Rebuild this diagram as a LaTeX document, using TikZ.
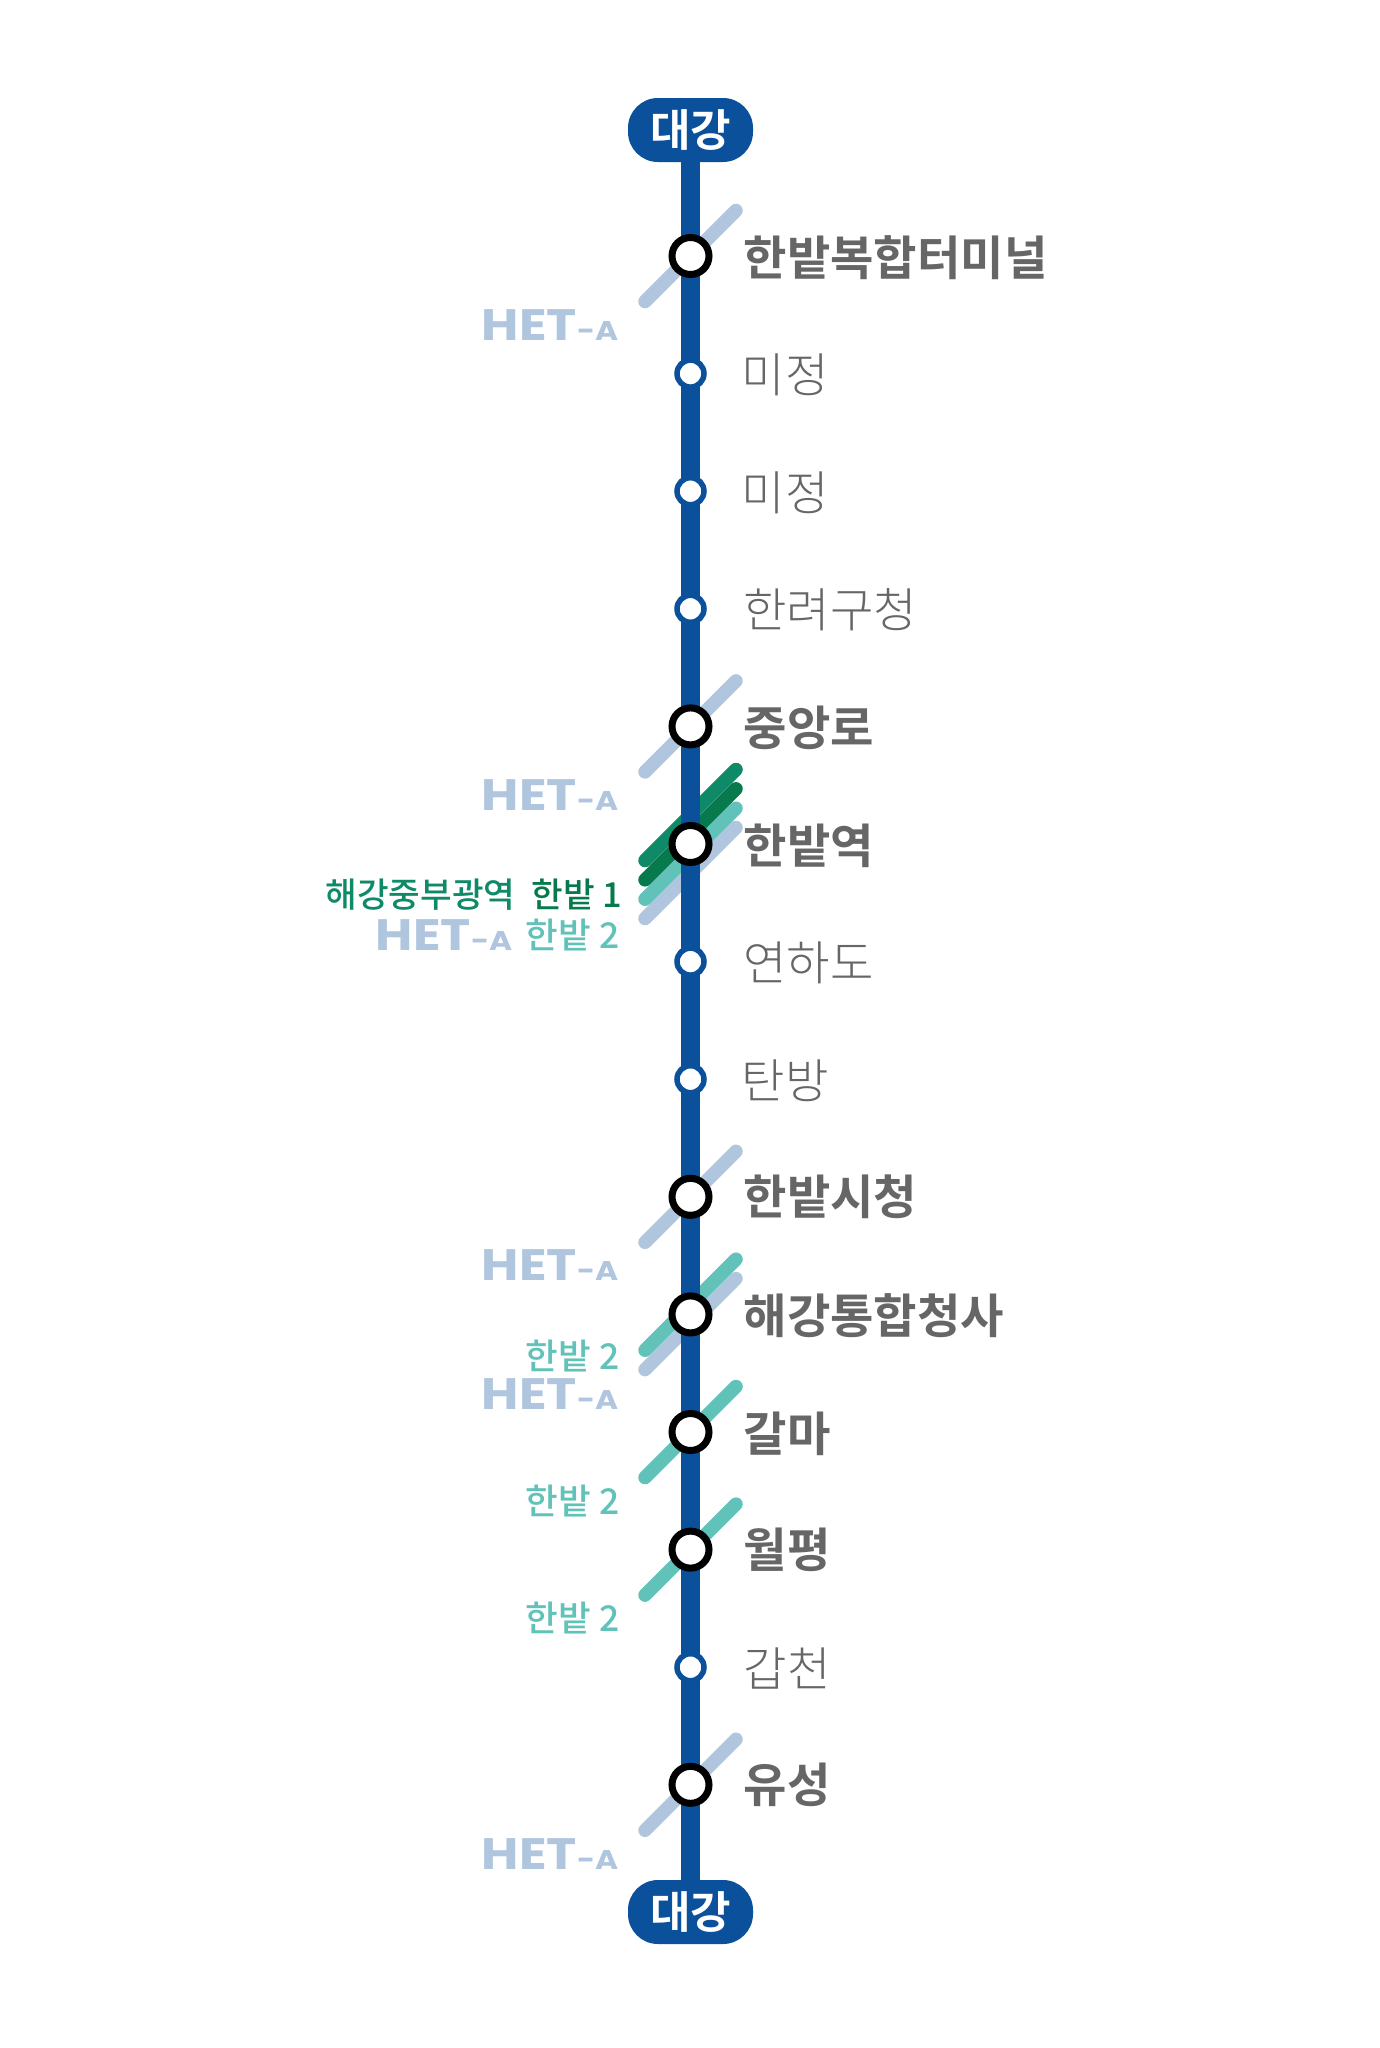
\documentclass[tikz,border=0pt]{standalone}
\usepackage{fontspec}
\usetikzlibrary{calc}
\IfFontExistsTF{Noto Sans CJK KR Medium}{\newfontfamily\krm{Noto Sans CJK KR Medium}}{\newfontfamily\krm[FakeBold=1.6]{Noto Sans CJK KR}}
\newfontfamily\krb{Noto Sans CJK KR Bold}
\IfFontExistsTF{Noto Sans CJK KR Light}{\newfontfamily\krl{Noto Sans CJK KR Light}}{\newfontfamily\krl{Noto Sans CJK KR}}
\newfontfamily\hetf[FakeStretch=1.16]{Poppins}
\definecolor{mainblue}{HTML}{0B509B}
\definecolor{het}{HTML}{B0C5DE}
\definecolor{gone}{HTML}{0F8A68}
\definecolor{gtwo}{HTML}{067A4C}
\definecolor{teal2}{HTML}{60C2B8}
\definecolor{lbl}{HTML}{666666}
\tikzset{
  diagline/.style={line width=13.5pt,line cap=round},
  mainline/.style={line width=19.5pt,mainblue,shorten <=-1pt,shorten >=-1pt},
  major/.style={circle,draw=black,line width=7pt,fill=white,minimum size=37pt,inner sep=0pt},
  minor/.style={circle,draw=mainblue,line width=5.5pt,fill=white,minimum size=27pt,inner sep=0pt},
  terminus/.style={fill=mainblue,rounded corners=30pt,minimum width=125pt,minimum height=64pt,inner sep=0pt,text=white,font=\krb\fontsize{44}{44}\selectfont},
  stn/.style={anchor=base west,inner sep=0pt,text=lbl,font=\krl\fontsize{47.2}{47.2}\selectfont},
  stnb/.style={stn,font=\krb\fontsize{47.2}{47.2}\selectfont},
  hetlabel/.style={anchor=base east,inner sep=0pt,text=het,font=\hetf\bfseries\fontsize{44}{44}\selectfont},
  hanlabel/.style={anchor=base east,inner sep=0pt,text=teal2,font=\krm\fontsize{35.5}{35.5}\selectfont},
  gnlabel/.style={anchor=base east,inner sep=0pt,font=\krm\fontsize{34.4}{34.4}\selectfont},
}
\newcommand{\hetname}{HET\fontsize{27}{27}\selectfont-A}
\newcommand{\diagat}[3]{\draw[diagline,#3] ($(#1)+(-45.5,45.5+#2)$) -- ($(#1)+(45.5,-45.5+#2)$);}
\begin{document}
\begin{tikzpicture}[x=1pt,y=-1pt]
\useasboundingbox (0,0) rectangle (1380,2048);
\fill[white] (0,0) rectangle (1380,2048);
\foreach \i in {0,...,13} {\coordinate (c\i) at (690.5,{256+117.6*\i});}
% crossings
\diagat{c0}{0}{het}
\diagat{c4}{0}{het}
\diagat{c5}{29}{het}
\diagat{c5}{9.7}{teal2}
\diagat{c5}{-9.7}{gtwo}
\diagat{c5}{-29}{gone}
\diagat{c8}{0}{het}
\diagat{c9}{9.7}{het}
\diagat{c9}{-9.7}{teal2}
\diagat{c10}{0}{teal2}
\diagat{c11}{0}{teal2}
\diagat{c13}{0}{het}
% termini and main line
\node[terminus] (top) at (690.5,130) {대강};
\node[terminus] (bot) at (690.5,1912) {대강};
\draw[mainline] (top.south) -- (bot.north);
% stations
\foreach \i in {0,4,5,8,9,10,11,13} {\node[major] (s\i) at (c\i) {};}
\foreach \i in {1,2,3,6,7,12} {\node[minor] (s\i) at (c\i) {};}
% names
\node[stnb] (n0) at ($(c0)+(53,19)$) {한밭복합터미널};
\node[stn] (n1) at ($(c1)+(51,19)$) {미정};
\node[stn] (n2) at ($(c2)+(51,19)$) {미정};
\node[stn] (n3) at ($(c3)+(52.5,19)$) {한려구청};
\node[stnb] (n4) at ($(c4)+(53,19)$) {중앙로};
\node[stnb] (n5) at ($(c5)+(53,19)$) {한밭역};
\node[stn] (n6) at ($(c6)+(52.5,19)$) {연하도};
\node[stn] (n7) at ($(c7)+(51,19)$) {탄방};
\node[stnb] (n8) at ($(c8)+(53,18)$) {한밭시청};
\node[stnb] (n9) at ($(c9)+(53,19)$) {해강통합청사};
\node[stnb] (n10) at ($(c10)+(53,19)$) {갈마};
\node[stnb] (n11) at ($(c11)+(53,18)$) {월평};
\node[stn] (n12) at ($(c12)+(53,19)$) {갑천};
\node[stnb] (n13) at ($(c13)+(53,18)$) {유성};
% line labels
\node[hetlabel] (h0) at ($(c0)+(-72,84)$) {\hetname};
\node[hetlabel] (h4) at ($(c4)+(-72,84)$) {\hetname};
\node[hetlabel] (h8) at ($(c8)+(-72,84)$) {\hetname};
\node[hetlabel] (h9) at ($(c9)+(-72,95)$) {\hetname};
\node[hetlabel] (h13) at ($(c13)+(-72,85)$) {\hetname};
\node[hetlabel] (h5) at ($(c5)+(-178,106)$) {\hetname};
\node[gnlabel,text=gtwo] (g1) at ($(c5)+(-68,63)$) {한밭 1};
\node[gnlabel,text=gone] (g0) at ($(c5)+(-175,63)$) {해강중부광역};
\node[hanlabel] (t5) at ($(c5)+(-71,104.5)$) {한밭 2};
\node[hanlabel] (t9) at ($(c9)+(-71,55)$) {한밭 2};
\node[hanlabel] (t10) at ($(c10)+(-71,82)$) {한밭 2};
\node[hanlabel] (t11) at ($(c11)+(-71,82)$) {한밭 2};
\end{tikzpicture}
\end{document}
